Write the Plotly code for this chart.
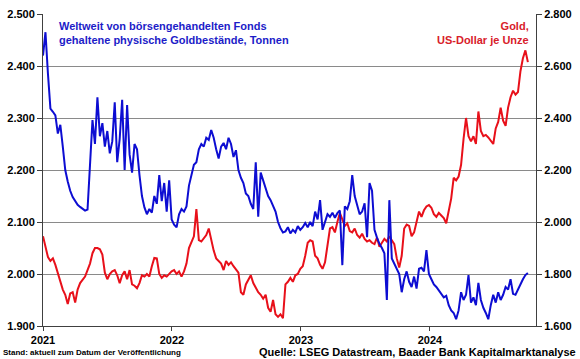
import pandas as pd
import plotly.graph_objects as go

# Weekly observations starting 2021-01-01
start_date = "2021-01-01"

etf_tonnes = [
    2420, 2465, 2385, 2318, 2312, 2305, 2270, 2287, 2245, 2200,
    2178, 2160, 2148, 2140, 2133, 2129, 2125, 2122, 2124, 2225,
    2296, 2250, 2340, 2265, 2290, 2245, 2275, 2232, 2255, 2330,
    2215, 2260, 2335, 2200, 2325, 2230, 2195, 2250, 2240, 2190,
    2150, 2128, 2115, 2125, 2118, 2150, 2135, 2190, 2140, 2175,
    2120, 2180, 2105, 2095, 2090, 2115, 2125, 2120, 2130, 2170,
    2190, 2210, 2215, 2240, 2250, 2245, 2262, 2258, 2277, 2262,
    2240, 2222, 2245, 2252, 2240, 2262, 2250, 2225, 2238, 2200,
    2185, 2175, 2155, 2150, 2135, 2125, 2215, 2110, 2195, 2180,
    2168, 2150, 2142, 2130, 2120, 2100, 2088, 2080, 2082, 2090,
    2078, 2085, 2080, 2092, 2085, 2090, 2098, 2090, 2100, 2092,
    2120, 2105, 2142, 2085, 2098, 2115, 2110, 2118, 2108, 2117,
    2122, 2017, 2130, 2125, 2140, 2190, 2150, 2130, 2115, 2120,
    2136, 2071, 2175, 2160, 2085, 2070, 2058, 2050, 2040, 1950,
    2142, 2030, 2020, 2010, 2000, 1965, 1990, 2005, 1985, 1975,
    1995, 1972, 2010, 2012, 2005, 2046, 2000, 1990, 1980, 1975,
    1968, 1960, 1955, 1958, 1940, 1930, 1925, 1913, 1930, 1965,
    1950, 1960, 1998, 1945, 1955, 1940, 1983, 1950, 1935, 1925,
    1913, 1940, 1960, 1945, 1965, 1950, 1960, 1975, 1970, 1990,
    1962, 1960, 1970, 1983, 1990, 1998, 2002,
]

gold_usd = [
    1945, 1900, 1865, 1850, 1860, 1835, 1800, 1770, 1740, 1720,
    1685, 1725, 1730, 1690, 1740, 1765, 1780, 1790, 1815, 1840,
    1880, 1900, 1900, 1895, 1875, 1805, 1780, 1800, 1810, 1815,
    1795, 1765, 1795, 1810, 1780, 1815, 1760, 1755, 1745, 1765,
    1795, 1790, 1800, 1790, 1830, 1862, 1860, 1800, 1785, 1795,
    1790, 1800, 1810, 1815, 1800, 1810, 1790, 1810, 1840, 1900,
    1925, 1945, 2050, 1930, 1925, 1940, 1950, 1975, 1930, 1890,
    1860, 1850, 1840, 1815, 1850, 1835, 1845, 1830, 1815, 1805,
    1730, 1720, 1760, 1780, 1795, 1765, 1745, 1730, 1720, 1705,
    1720, 1670, 1655, 1700, 1645, 1635, 1645, 1630, 1760, 1770,
    1785, 1770, 1795, 1800, 1820, 1830, 1870, 1920, 1930, 1925,
    1870, 1860, 1835, 1820, 1845, 1915, 1975, 1980, 1960, 2000,
    2035, 2010, 1985, 1995, 1965, 1960, 1975, 1950, 1940, 1955,
    1935, 1925, 1930, 1920, 1915, 1940, 1905, 1920, 1935, 1925,
    1945, 1930, 1915, 1860, 1825, 1870, 1975, 1990, 1985, 1945,
    1960, 2000, 2040, 2020, 2045, 2060, 2065, 2055, 2030, 2020,
    2035, 2025, 2015, 1995, 2040, 2090, 2170, 2160, 2175, 2220,
    2320, 2400, 2330, 2310, 2330, 2300, 2425, 2350, 2330, 2335,
    2325, 2310, 2300, 2360, 2385, 2440, 2390, 2370, 2440, 2480,
    2505, 2490, 2500, 2580, 2630, 2660, 2615,
]

year_ticks = ["2021-01-01", "2022-01-01", "2023-01-01", "2024-01-01"]
year_labels = ["2021", "2022", "2023", "2024"]

dates = pd.date_range(start=start_date, periods=len(etf_tonnes), freq="7D")

BLUE = "#0d0dd2"
RED = "#e8101a"
FONT = "Liberation Sans, Arial, sans-serif"

fig = go.Figure()
fig.add_trace(go.Scatter(x=dates, y=gold_usd, mode="lines", yaxis="y",
                         line=dict(color=RED, width=2), name="Gold"))
fig.add_trace(go.Scatter(x=dates, y=etf_tonnes, mode="lines", yaxis="y2",
                         line=dict(color=BLUE, width=2), name="ETF"))

L, R, T, B = 43, 44, 14, 33
W, H = 580, 359
pw, ph = W - L - R, H - T - B

def px(x):
    return (x - L) / pw

def py(y):
    return (H - B - y) / ph

fig.update_layout(
    width=W, height=H,
    margin=dict(l=L, r=R, t=T, b=B, pad=0, autoexpand=False),
    paper_bgcolor="white", plot_bgcolor="white",
    separators=",.",
    showlegend=False,
    font=dict(family=FONT, size=11, color="black"),
    xaxis=dict(
        type="date", range=["2021-01-01", "2024-10-27"],
        tickvals=year_ticks, ticktext=year_labels,
        showgrid=False, zeroline=False, automargin=False,
        showline=True, linecolor="#404040", linewidth=1,
        ticks="outside", ticklen=4, tickcolor="#404040",
        tickfont=dict(family=FONT, size=11, color="black", weight="bold"),
    ),
    yaxis=dict(
        side="right", range=[1600, 2800], dtick=200, tick0=1600,
        tickformat=",d", automargin=False,
        showgrid=True, gridcolor="#8a8a8a", gridwidth=1,
        zeroline=False,
        showline=True, linecolor="#404040", linewidth=1,
        ticks="outside", ticklen=5, tickcolor="#404040",
        tickfont=dict(family=FONT, size=11, color="black", weight="bold"),
    ),
    yaxis2=dict(
        side="left", overlaying="y", range=[1900, 2500], dtick=100, tick0=1900,
        tickformat=",d", automargin=False,
        showgrid=False, zeroline=False,
        showline=True, linecolor="#404040", linewidth=1,
        ticks="outside", ticklen=5, tickcolor="#404040",
        tickfont=dict(family=FONT, size=11, color="black", weight="bold"),
    ),
)

fig.add_annotation(
    xref="paper", yref="paper", x=px(57), y=py(18), xanchor="left", yanchor="top",
    text="<b>Weltweit von börsengehandelten Fonds<br>gehaltene physische Goldbestände, Tonnen</b>",
    showarrow=False, align="left",
    font=dict(family=FONT, size=11, color="#1c1cc8"),
)
fig.add_annotation(
    xref="paper", yref="paper", x=px(531), y=py(18), xanchor="right", yanchor="top",
    text="<b>Gold,<br>US-Dollar je Unze</b>",
    showarrow=False, align="right",
    font=dict(family=FONT, size=11, color="#d8202a"),
)
fig.add_annotation(
    xref="paper", yref="paper", x=px(1), y=py(352), xanchor="left", yanchor="middle",
    text="<b>Stand: aktuell zum Datum der Veröffentlichung</b>",
    showarrow=False, align="left",
    font=dict(family=FONT, size=8, color="black"),
)
fig.add_annotation(
    xref="paper", yref="paper", x=px(578), y=py(352), xanchor="right", yanchor="middle",
    text="<b>Quelle: LSEG Datastream, Baader Bank Kapitalmarktanalyse</b>",
    showarrow=False, align="right",
    font=dict(family=FONT, size=11, color="black"),
)

fig.write_html(
    "out.html",
    config={"displayModeBar": False},
    post_script="document.body.style.margin='0';document.body.style.overflow='hidden';",
)
